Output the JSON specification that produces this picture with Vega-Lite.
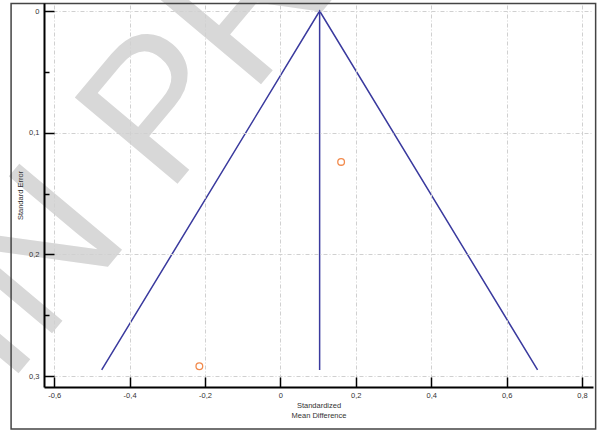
{
  "$schema": "https://vega.github.io/schema/vega-lite/v6.json",
  "width": 549,
  "height": 384,
  "autosize": {"type": "none"},
  "padding": {"left": 44, "top": 3, "right": 4, "bottom": 46},
  "background": "white",
  "config": {"view": {"stroke": null}},
  "datasets": {
    "watermark": [{"label": "IN PRESS"}],
    "frame": [{"name": "frame"}],
    "funnel": [
      {"smd": -0.474, "se": 0.295, "o": 1},
      {"smd": 0.104, "se": 0, "o": 2},
      {"smd": 0.682, "se": 0.295, "o": 3}
    ],
    "center": [{"smd": 0.104, "se": 0, "se2": 0.295}],
    "studies": [
      {"smd": 0.161, "se": 0.124},
      {"smd": -0.215, "se": 0.292}
    ]
  },
  "layer": [
    {
      "data": {"name": "watermark"},
      "mark": {"type": "text", "angle": 310, "fontSize": 195, "font": "Liberation Sans", "color": "#d8d8d8", "align": "left", "baseline": "alphabetic"},
      "encoding": {
        "x": {"datum": -0.725, "type": "quantitative", "scale": {"domain": [-0.627, 0.829], "nice": false, "zero": false}},
        "y": {"datum": 0.309, "type": "quantitative", "scale": {"domain": [-0.0066, 0.309], "nice": false, "zero": false, "reverse": true}},
        "text": {"field": "label"}
      }
    },
    {
      "data": {"name": "frame"},
      "mark": {"type": "rect", "fill": "transparent", "stroke": "#444444", "strokeWidth": 1.5},
      "encoding": {
        "x": {"datum": -0.7143, "type": "quantitative", "scale": {"domain": [-0.627, 0.829], "nice": false, "zero": false}},
        "x2": {"datum": 0.836},
        "y": {"datum": -0.0062, "type": "quantitative", "scale": {"domain": [-0.0066, 0.309], "nice": false, "zero": false, "reverse": true}},
        "y2": {"datum": 0.3436}
      }
    },
    {
      "data": {"name": "funnel"},
      "mark": {"type": "line", "color": "#3a3a9e", "strokeWidth": 1.5},
      "encoding": {
        "x": {
          "field": "smd", "type": "quantitative",
          "scale": {"domain": [-0.627, 0.829], "nice": false, "zero": false},
          "axis": {
            "values": [-0.6, -0.5, -0.4, -0.3, -0.2, -0.1, 0, 0.1, 0.2, 0.3, 0.4, 0.5, 0.6, 0.7, 0.8],
            "title": ["Standardized", "Mean Difference"],
            "labelExpr": "abs(datum.value*5-round(datum.value*5))<0.001 ? (abs(datum.value)<0.001 ? '0' : replace(replace(format(datum.value,'.1f'),'.',','),'\u2212','-')) : ''",
            "tickSize": {"condition": {"test": "abs(datum.value*5-round(datum.value*5))<0.001", "value": -10}, "value": -5},
            "tickColor": "#000000", "tickWidth": 1.5,
            "domainColor": "#000000", "domainWidth": 2,
            "grid": true, "gridColor": "#d0d0d0", "gridDash": [4, 2, 1, 2], "gridWidth": 1,
            "gridOpacity": {"condition": {"test": "abs(datum.value*5-round(datum.value*5))<0.001", "value": 1}, "value": 0},
            "labelFont": "Liberation Sans", "labelFontSize": 7.5, "labelColor": "#333333", "labelPadding": 14,
            "titleFont": "Liberation Sans", "titleFontSize": 7.5, "titleFontWeight": "normal", "titleColor": "#333333", "titlePadding": 3,
            "zindex": 1
          }
        },
        "y": {
          "field": "se", "type": "quantitative",
          "scale": {"domain": [-0.0066, 0.309], "nice": false, "zero": false, "reverse": true},
          "axis": {
            "values": [0, 0.05, 0.1, 0.15, 0.2, 0.25, 0.3],
            "title": "Standard Error",
            "labelExpr": "abs(datum.value*10-round(datum.value*10))<0.001 ? (abs(datum.value)<0.001 ? '0' : replace(format(datum.value,'.1f'),'.',',')) : ''",
            "tickSize": {"condition": {"test": "abs(datum.value*10-round(datum.value*10))<0.001", "value": -10}, "value": -5},
            "tickColor": "#000000", "tickWidth": 1.5,
            "domainColor": "#000000", "domainWidth": 2,
            "grid": true, "gridColor": "#d0d0d0", "gridDash": [4, 2, 1, 2], "gridWidth": 1,
            "gridOpacity": {"condition": {"test": "abs(datum.value*10-round(datum.value*10))<0.001", "value": 1}, "value": 0},
            "labelFont": "Liberation Sans", "labelFontSize": 7.5, "labelColor": "#333333", "labelPadding": 15,
            "titleFont": "Liberation Sans", "titleFontSize": 7.5, "titleFontWeight": "normal", "titleColor": "#333333", "titlePadding": 4,
            "zindex": 1
          }
        },
        "order": {"field": "o"}
      }
    },
    {
      "data": {"name": "center"},
      "mark": {"type": "rule", "color": "#3a3a9e", "strokeWidth": 1.5},
      "encoding": {
        "x": {"field": "smd", "type": "quantitative", "scale": {"domain": [-0.627, 0.829], "nice": false, "zero": false}},
        "y": {"field": "se", "type": "quantitative", "scale": {"domain": [-0.0066, 0.309], "nice": false, "zero": false, "reverse": true}},
        "y2": {"field": "se2"}
      }
    },
    {
      "data": {"name": "studies"},
      "mark": {"type": "point", "shape": "circle", "filled": false, "color": "#f28a4c", "strokeWidth": 1.3, "size": 45, "opacity": 1},
      "encoding": {
        "x": {"field": "smd", "type": "quantitative", "scale": {"domain": [-0.627, 0.829], "nice": false, "zero": false}},
        "y": {"field": "se", "type": "quantitative", "scale": {"domain": [-0.0066, 0.309], "nice": false, "zero": false, "reverse": true}}
      }
    }
  ]
}
